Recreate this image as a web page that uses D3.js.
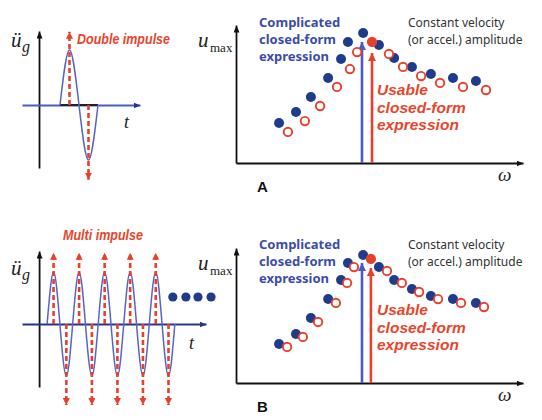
<!doctype html>
<html>
<head>
<meta charset="utf-8">
<style>
    body { margin: 0; background: #fff; }
    .serif { font-family: "Liberation Serif", "DejaVu Serif", serif; font-style: italic; }
    .blueTxt { fill: #3b4caa; font-family: "Noto Sans", sans-serif; font-weight: bold; font-size: 13px; }
    .redTxt { fill: #e8452c; font-family: "Liberation Sans", sans-serif; font-weight: bold; font-style: italic; font-size: 15.5px; }
    .redSmall { fill: #e8452c; font-family: "Liberation Sans", sans-serif; font-weight: bold; font-style: italic; font-size: 14.5px; }
    .grayTxt { fill: #333; font-family: "Noto Sans", sans-serif; font-size: 12px; }
</style>
</head>
<body>
<div id="chart"></div>
<script src="https://cdnjs.cloudflare.com/ajax/libs/d3/7.8.5/d3.min.js"></script>
<script>

// ---- data ----
// response spectra (omega, u_max), panel A
var omegaBlueA = [15.0, 20.9, 26.1, 32.1, 36.6, 39.0, 44.3, 49.8, 55.1, 61.3, 67.9, 75.6, 83.6];
var umaxBlueA  = [29.0, 37.0, 47.8, 61.6, 75.4, 87.7, 94.2, 85.5, 76.1, 69.6, 64.5, 61.6, 59.4];
var omegaRedA  = [18.1, 24.0, 29.3, 35.2, 39.7, 42.2, 47.4, 53.3, 58.2, 64.5, 71.1, 79.1, 87.1];
var umaxRedA   = [22.5, 30.4, 41.3, 55.1, 68.1, 80.4, 87.7, 79.0, 69.6, 63.0, 58.0, 55.1, 52.9];
// panel B
var omegaBlueB = [15.0, 20.9, 26.1, 32.1, 36.6, 39.0, 44.3, 49.8, 55.1, 61.3, 67.9, 75.6, 83.6];
var umaxBlueB  = [28.9, 36.3, 48.1, 62.2, 76.3, 88.9, 94.8, 85.9, 76.3, 69.6, 64.4, 62.2, 59.3];
var omegaRedB  = [17.8, 23.3, 28.6, 34.8, 38.7, 41.1, 47.0, 52.6, 57.8, 63.8, 70.4, 78.4, 86.4];
var umaxRedB   = [26.7, 34.1, 45.2, 59.3, 74.1, 85.9, 91.9, 83.0, 74.1, 67.4, 62.2, 59.3, 56.3];
var peakIndex = 6; // filled red point

// vertical arrows (omega, top of arrow)
var arrowsA = [{w: 43.9, u: 87.7, c: "#4a58c8"}, {w: 47.4, u: 79.7, c: "#e8402a"}];
var arrowsB = [{w: 43.9, u: 88.9, c: "#4a58c8"}, {w: 47.0, u: 85.2, c: "#e8402a"}];

// ground acceleration key points (t, amplitude)
var waveA = [[2.1, 0], [3.05, 1], [4.0, 0], [4.95, -1], [5.9, 0]];
var impulsesA = [{t: 3.05, a: 1.33}, {t: 4.95, a: -1.36}];

var waveB = [[0.8, 0], [1.44, 1], [2.07, 0], [2.71, -1], [3.34, 0], [3.98, 1], [4.61, 0], [5.25, -1],
             [5.88, 0], [6.52, 1], [7.15, 0], [7.79, -1], [8.42, 0], [9.06, 1], [9.69, 0], [10.33, -1],
             [10.96, 0], [11.6, 1], [12.23, 0], [12.87, -1], [13.5, 0]];
var impulseTimesB = [1.44, 2.71, 3.98, 5.25, 6.52, 7.79, 9.06, 10.33, 11.6, 12.87];
var ellipsisT = [13.3, 14.6, 15.8, 17.1];

// ---- svg ----
var svg = d3.select("#chart").append("svg")
    .attr("width", 542)
    .attr("height", 420);

var defs = svg.append("defs");
function marker(id, color, len, wid) {
    defs.append("marker")
        .attr("id", id)
        .attr("markerUnits", "userSpaceOnUse")
        .attr("viewBox", "0 0 " + len + " " + wid)
        .attr("refX", len).attr("refY", wid / 2)
        .attr("markerWidth", len).attr("markerHeight", wid)
        .attr("orient", "auto")
        .append("path")
        .attr("d", "M0,0L" + len + "," + (wid / 2) + "L0," + wid + "Z")
        .attr("fill", color);
}
marker("axHead", "#111", 7, 6);
marker("axHeadBlue", "#26348a", 7, 6);
marker("redHead", "#e8402a", 7, 7);
marker("blueArr", "#4a58c8", 8, 8);
marker("redArr", "#e8402a", 8, 8);

function addAxis(g, axis, y, x, color, head) {
    var a = g.append("g").call(axis.ticks(0).tickSizeOuter(0));
    if (y !== null) a.attr("transform", "translate(0," + y + ")");
    if (x !== null) a.attr("transform", "translate(" + x + ",0)");
    a.select(".domain")
        .attr("stroke", color)
        .attr("stroke-width", 1.8)
        .attr("marker-end", "url(#" + head + ")");
    return a;
}

// ---- left panels: ground motion ----
function drawWave(opts) {
    var g = svg.append("g");
    var t = d3.scaleLinear().domain([-1.7, opts.tMax]).range([22, opts.xEnd]);
    var a = d3.scaleLinear().domain([-1, 1]).range([opts.y0 + opts.amp, opts.y0 - opts.amp]);

    // y axis (upwards, arrow at top)
    var yAx = d3.scaleLinear().domain([0, 1]).range([opts.yBottom, opts.yTop]);
    addAxis(g, d3.axisLeft(yAx), null, t(0), "#111", "axHead");

    // x axis
    addAxis(g, d3.axisBottom(t), opts.y0, null, opts.xColor, opts.xColor === "#111" ? "axHead" : "axHeadBlue");

    if (opts.blackSeg) {
        g.append("line")
            .attr("x1", t(opts.blackSeg[0])).attr("x2", t(opts.blackSeg[1]))
            .attr("y1", opts.y0).attr("y2", opts.y0)
            .attr("stroke", "#222").attr("stroke-width", 2);
    }

    g.append("path")
        .datum(opts.wave)
        .attr("fill", "none")
        .attr("stroke", "#5766c6")
        .attr("stroke-width", 1.5)
        .attr("d", d3.line()
            .x(function(d) { return t(d[0]); })
            .y(function(d) { return a(d[1]); })
            .curve(d3.curveNatural));

    g.selectAll(".imp")
        .data(opts.impulses)
        .enter().append("line")
        .attr("x1", function(d) { return t(d.t); })
        .attr("x2", function(d) { return t(d.t); })
        .attr("y1", a(0))
        .attr("y2", function(d) { return a(d.a); })
        .attr("stroke", "#e8402a")
        .attr("stroke-width", 2.6)
        .attr("stroke-dasharray", "5,3")
        .attr("marker-end", "url(#redHead)");

    // labels
    g.append("text").attr("class", "serif")
        .attr("x", 11).attr("y", opts.labelY)
        .attr("font-size", "21px").attr("fill", "#222").text("\u00fc");
    g.append("text").attr("class", "serif")
        .attr("x", 22).attr("y", opts.labelY + 5)
        .attr("font-size", "16px").attr("fill", "#222").text("g");
    g.append("text").attr("class", "serif")
        .attr("x", opts.tLabel[0]).attr("y", opts.tLabel[1])
        .attr("font-size", "18px").attr("fill", "#222").text("t");
    g.append("text").attr("class", "redSmall")
        .attr("x", opts.title[0]).attr("y", opts.title[1])
        .attr("textLength", opts.title[3])
        .attr("lengthAdjust", "spacingAndGlyphs")
        .text(opts.title[2]);
    return {t: t, a: a, g: g};
}

drawWave({
    tMax: 10.1, xEnd: 140, y0: 105, amp: 55, yTop: 31, yBottom: 168,
    xColor: "#4a5cc4", blackSeg: [2.1, 5.9],
    wave: waveA, impulses: impulsesA,
    labelY: 47, tLabel: [124, 128], title: [77, 44, "Double impulse", 93]
});

var pB = drawWave({
    tMax: 16.6, xEnd: 206, y0: 324, amp: 52, yTop: 251, yBottom: 387,
    xColor: "#26348a", blackSeg: null,
    wave: waveB,
    impulses: impulseTimesB.map(function(v, i) { return {t: v, a: i % 2 === 0 ? 1.37 : -1.56}; }),
    labelY: 275, tLabel: [189, 349], title: [63, 240, "Multi impulse", 80]
});

pB.g.selectAll(".ell")
    .data(ellipsisT)
    .enter().append("circle")
    .attr("cx", function(d) { return pB.t(d); })
    .attr("cy", 297)
    .attr("r", 4.6)
    .attr("fill", "#1f3c8c");

// ---- right panels: response spectra ----
function drawSpectrum(opts) {
    var g = svg.append("g");
    var x = d3.scaleLinear().domain([0, 100]).range([236, 523]);
    var y = d3.scaleLinear().domain([0, 100]).range([opts.y0, opts.yTop]);

    addAxis(g, d3.axisBottom(x), opts.y0, null, "#111", "axHead");
    addAxis(g, d3.axisLeft(y), null, 236, "#111", "axHead");

    g.selectAll(".arr")
        .data(opts.arrows)
        .enter().append("line")
        .attr("x1", function(d) { return x(d.w); })
        .attr("x2", function(d) { return x(d.w); })
        .attr("y1", y(0))
        .attr("y2", function(d) { return y(d.u); })
        .attr("stroke", function(d) { return d.c; })
        .attr("stroke-width", 2.6)
        .attr("marker-end", function(d, i) { return i === 0 ? "url(#blueArr)" : "url(#redArr)"; });

    g.selectAll(".blue")
        .data(opts.wb)
        .enter().append("circle")
        .attr("cx", function(d) { return x(d); })
        .attr("cy", function(d, i) { return y(opts.ub[i]); })
        .attr("r", 5)
        .attr("fill", "#1f3c8c");

    g.selectAll(".red")
        .data(opts.wr)
        .enter().append("circle")
        .attr("cx", function(d) { return x(d); })
        .attr("cy", function(d, i) { return y(opts.ur[i]); })
        .attr("r", 4.2)
        .attr("fill", function(d, i) { return i === peakIndex ? "#e8402a" : "#fff"; })
        .attr("stroke", "#e8402a")
        .attr("stroke-width", 1.9);

    // axis labels
    var top = opts.yTop;
    g.append("text").attr("class", "serif")
        .attr("x", 198).attr("y", top + 22)
        .attr("font-size", "21px").attr("fill", "#222").text("u");
    g.append("text")
        .attr("x", 210).attr("y", top + 27)
        .attr("font-family", "Liberation Serif, serif")
        .attr("font-size", "13px").attr("fill", "#222").text("max");
    g.append("text").attr("class", "serif")
        .attr("x", 498).attr("y", opts.y0 + 18)
        .attr("font-size", "19px").attr("fill", "#222").text("\u03c9");
    g.append("text")
        .attr("x", 257).attr("y", opts.y0 + 29)
        .attr("font-family", "Liberation Sans, sans-serif")
        .attr("font-weight", "bold")
        .attr("font-size", "15px").attr("fill", "#111").text(opts.letter);

    var bl = g.append("text").attr("class", "blueTxt");
    ["Complicated", "closed-form", "expression"].forEach(function(s, i) {
        bl.append("tspan").attr("x", 259).attr("y", opts.txtY + i * 17).text(s);
    });
    var gr = g.append("text").attr("class", "grayTxt");
    ["Constant velocity", "(or accel.) amplitude"].forEach(function(s, i) {
        gr.append("tspan").attr("x", 408).attr("y", opts.txtY + i * 16.5).text(s);
    });
    var rd = g.append("text").attr("class", "redTxt");
    ["Usable", "closed-form", "expression"].forEach(function(s, i) {
        rd.append("tspan").attr("x", 377).attr("y", opts.redY + i * 17.5).text(s);
    });
}

drawSpectrum({
    y0: 163, yTop: 25, letter: "A",
    wb: omegaBlueA, ub: umaxBlueA, wr: omegaRedA, ur: umaxRedA, arrows: arrowsA,
    txtY: 27, redY: 95
});
drawSpectrum({
    y0: 383, yTop: 248, letter: "B",
    wb: omegaBlueB, ub: umaxBlueB, wr: omegaRedB, ur: umaxRedB, arrows: arrowsB,
    txtY: 249, redY: 315
});

</script>
</body>
</html>
